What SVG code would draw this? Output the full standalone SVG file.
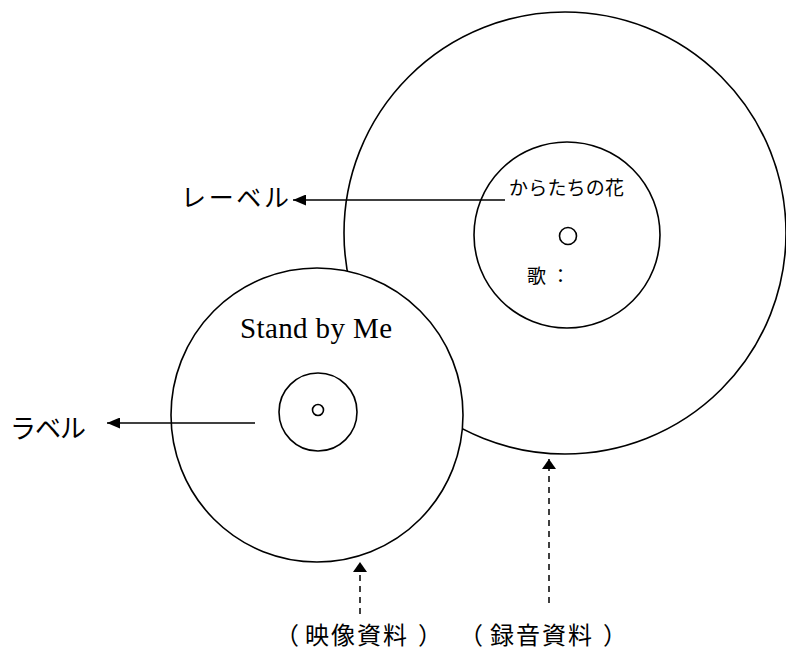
<svg xmlns="http://www.w3.org/2000/svg" width="786" height="652" viewBox="0 0 786 652">
<style>
.c{fill:#fff;stroke:#000;stroke-width:1.6}
.l{stroke:#000;stroke-width:1.5;fill:none}
.d{stroke:#000;stroke-width:1.5;fill:none;stroke-dasharray:6,5}
.j{font-family:"Noto Sans CJK JP","Noto Sans",sans-serif;fill:#000}
.s{font-family:"Liberation Serif",serif;fill:#000}
</style>
<defs>
<marker id="ah" viewBox="0 0 10 14" refX="10" refY="7" markerWidth="10" markerHeight="14" markerUnits="userSpaceOnUse" orient="auto">
<path d="M0,0 L10,7 L0,14 z" fill="#000"/>
</marker>
<marker id="ah2" viewBox="0 0 13 11" refX="13" refY="5.5" markerWidth="13" markerHeight="11" markerUnits="userSpaceOnUse" orient="auto">
<path d="M0,0 L13,5.5 L0,11 z" fill="#000"/>
</marker>
</defs>
<g id="record">
<ellipse class="c" cx="565" cy="233" rx="221" ry="221"/>
<circle class="c" cx="567" cy="235" r="93"/>
<circle class="c" cx="568" cy="236" r="8.5"/>
<text class="j" x="509" y="195" font-size="19" textLength="115" lengthAdjust="spacing">からたちの花</text>
<text class="j" x="527 551" y="283" font-size="19">歌：</text>
</g>
<g id="video">
<ellipse class="c" cx="317" cy="415" rx="146" ry="147"/>
<circle class="c" cx="318" cy="412" r="39"/>
<circle class="c" cx="318" cy="410" r="5.5"/>
<text class="s" x="240" y="338" font-size="29" textLength="152" lengthAdjust="spacing">Stand by Me</text>
</g>
<g id="connectors">
<line class="l" x1="505" y1="200" x2="293" y2="200" marker-end="url(#ah2)"/>
<line class="l" x1="255" y1="423" x2="107" y2="423" marker-end="url(#ah2)"/>
<line class="d" x1="360" y1="614" x2="360" y2="562" marker-end="url(#ah)"/>
<line class="d" x1="549" y1="603" x2="549" y2="459" marker-end="url(#ah)"/>
</g>
<g id="labels">
<text class="j" x="181" y="207" font-size="25" textLength="108" lengthAdjust="spacing">レーベル</text>
<text class="j" x="10" y="438" font-size="26" textLength="76" lengthAdjust="spacing">ラベル</text>
<text class="j" x="275 305 331 357 383 418" y="644" font-size="24">（映像資料）</text>
<text class="j" x="459 490 516 542 568 603" y="644" font-size="24">（録音資料）</text>
</g>
</svg>
